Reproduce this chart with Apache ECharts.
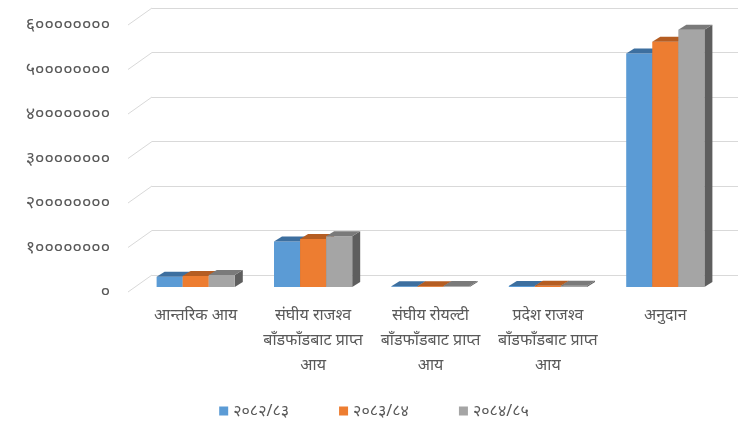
<!DOCTYPE html>
<html>
<head>
<meta charset="utf-8">
<script src="https://cdn.jsdelivr.net/npm/echarts@6/dist/echarts.min.js"></script>
<style>
  html, body { margin: 0; background: #fff; }
  #chart { width: 748px; height: 430px; }
</style>
</head>
<body>
<div id="chart"></div>
<script>
// श्रेणीहरू (categories)
const categories = [
  'आन्तरिक आय',
  'संघीय राजश्व\nबाँडफाँडबाट प्राप्त\nआय',
  'संघीय रोयल्टी\nबाँडफाँडबाट प्राप्त\nआय',
  'प्रदेश राजश्व\nबाँडफाँडबाट प्राप्त\nआय',
  'अनुदान'
]
const seriesNames = ['२०८२/८३', '२०८३/८४', '२०८४/८५']

// values
const values2082 = [23000000, 102000000, 1500000, 2500000, 525000000]
const values2083 = [25000000, 108000000, 1800000, 2800000, 551000000]
const values2084 = [27000000, 114000000, 2000000, 3000000, 578000000]

const yTicks = [0, 100000000, 200000000, 300000000, 400000000, 500000000, 600000000]
const yTickLabels = ['०', '१००००००००', '२००००००००', '३००००००००', '४००००००००', '५००००००००', '६००००००००']

const seriesValues = [values2082, values2083, values2084]
const colors = ['#5b9bd5', '#ed7d31', '#a5a5a5']
const topColors = ['#3d6f9f', '#b55d22', '#7a7a7a']
const sideColors = ['#2f5880', '#8f4a1b', '#5e5e5e']

const FONT = 'Noto Sans, DejaVu Sans, sans-serif'

const chart = echarts.init(document.getElementById('chart'))

// 3d-ish column drawn on the front grid
const barRenderer = (idx) => (params, api) => {
  const cat = api.value(0)
  const top = api.coord([cat, api.value(1)])
  const base = api.coord([cat, 0])[1]
  const band = api.size([1, 0])[0]
  const bw = band * 0.222
  const x0 = top[0] - bw * 1.5 + idx * bw
  const yt = Math.min(top[1], base - 0.8)
  const dx = 8
  const dy = 5
  return {
    type: 'group',
    children: [
      {
        type: 'polygon',
        shape: { points: [[x0 + bw, yt], [x0 + bw + dx, yt - dy], [x0 + bw + dx, base - dy], [x0 + bw, base]] },
        style: { fill: sideColors[idx] }
      },
      {
        type: 'rect',
        shape: { x: x0, y: yt, width: bw, height: base - yt },
        style: { fill: colors[idx] }
      },
      {
        type: 'polygon',
        shape: { points: [[x0, yt], [x0 + bw, yt], [x0 + bw + dx, yt - dy], [x0 + dx, yt - dy]] },
        style: { fill: topColors[idx] }
      }
    ]
  }
}

// diagonal floor lines on the left wall
const wallRenderer = (params, api) => {
  const y = api.coord([0, api.value(1)])[1]
  const x = params.coordSys.x
  return {
    type: 'line',
    shape: { x1: x, y1: y, x2: x - 24, y2: y + 17 },
    style: { stroke: '#d9d9d9', lineWidth: 1 }
  }
}

const option = {
  backgroundColor: '#fff',
  animation: false,
  textStyle: { fontFamily: FONT },
  legend: {
    data: seriesNames,
    bottom: 6,
    left: 'center',
    icon: 'rect',
    itemWidth: 9,
    itemHeight: 9,
    itemGap: 50,
    textStyle: { color: '#595959', fontSize: 16, fontFamily: FONT }
  },
  grid: [
    // back wall
    { left: 152, right: 10, top: 8, height: 267 },
    // front plane, bars
    { left: 137, right: 24, top: 20, height: 267 },
    // floor front edge, tick labels
    { left: 128, right: 24, top: 25, height: 267 }
  ],
  xAxis: [
    { type: 'category', gridIndex: 0, data: categories, show: false },
    {
      type: 'category',
      gridIndex: 1,
      data: categories,
      axisLine: { show: false },
      axisTick: { show: false },
      axisLabel: {
        interval: 0,
        margin: 16,
        color: '#595959',
        fontSize: 16,
        lineHeight: 25,
        fontFamily: FONT
      }
    },
    { type: 'category', gridIndex: 2, data: categories, show: false }
  ],
  yAxis: [
    {
      type: 'value', gridIndex: 0, min: 0, max: 600000000, interval: 100000000,
      axisLine: { show: false }, axisTick: { show: false }, axisLabel: { show: false },
      splitLine: { lineStyle: { color: '#d9d9d9', width: 1 } }
    },
    {
      type: 'value', gridIndex: 1, min: 0, max: 600000000, interval: 100000000,
      show: false, splitLine: { show: false }
    },
    {
      type: 'value', gridIndex: 2, min: 0, max: 600000000, interval: 100000000,
      axisLine: { show: false }, axisTick: { show: false }, splitLine: { show: false },
      axisLabel: {
        margin: 18,
        color: '#595959',
        fontSize: 18,
        fontFamily: FONT,
        formatter: (v) => yTickLabels[yTicks.indexOf(v)]
      }
    }
  ],
  series: [
    {
      type: 'custom',
      name: 'wall',
      xAxisIndex: 0,
      yAxisIndex: 0,
      silent: true,
      renderItem: wallRenderer,
      data: yTicks.map(v => [0, v])
    },
    ...seriesNames.map((name, i) => ({
      type: 'custom',
      name,
      xAxisIndex: 1,
      yAxisIndex: 1,
      itemStyle: { color: colors[i] },
      renderItem: barRenderer(i),
      data: seriesValues[i].map((v, c) => [c, v])
    }))
  ]
}

chart.setOption(option)
</script>
</body>
</html>
